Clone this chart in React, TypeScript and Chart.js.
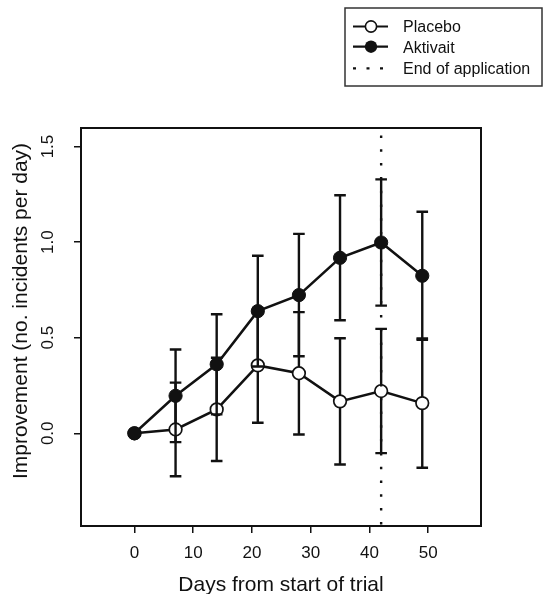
import React, { useEffect, useRef } from "react";
import { Chart, registerables } from "chart.js";

Chart.register(...registerables);

const DAYS = [0, 7, 14, 21, 28, 35, 42, 49];
const PLACEBO = [0, 0.02, 0.125, 0.355, 0.314, 0.167, 0.221, 0.158];
const PLACEBO_ERR = [0, 0.245, 0.27, 0.3, 0.32, 0.33, 0.325, 0.338];
const AKTIVAIT = [0, 0.196, 0.361, 0.639, 0.723, 0.918, 0.998, 0.824];
const AKTIVAIT_ERR = [0, 0.242, 0.262, 0.29, 0.32, 0.327, 0.33, 0.335];
const END_OF_APPLICATION_DAY = 42;

const X_TICKS = [0, 10, 20, 30, 40, 50];
const Y_TICKS = [0, 0.5, 1.0, 1.5];
const X_RANGE = [-9.1, 59];
const Y_RANGE = [-0.485, 1.597];

const X_TITLE = "Days from start of trial";
const Y_TITLE = "Improvement (no. incidents per day)";
const LEGEND_LABELS = ["Placebo", "Aktivait", "End of application"];

const FONT = "'Liberation Sans', Arial, sans-serif";
const INK = "#111";

const errorBarPlugin = {
  id: "errorBars",
  beforeDatasetDraw(chart: any, args: any) {
    const ds: any = chart.data.datasets[args.index];
    if (!ds.errors) return;
    const xs = chart.scales.x;
    const ys = chart.scales.y;
    const ctx = chart.ctx;
    ctx.save();
    ctx.strokeStyle = INK;
    ctx.lineWidth = 2.4;
    ctx.setLineDash([]);
    ds.data.forEach((p: any, i: number) => {
      const e = ds.errors[i];
      if (!e) return;
      const x = xs.getPixelForValue(p.x);
      const yt = ys.getPixelForValue(p.y + e);
      const yb = ys.getPixelForValue(p.y - e);
      ctx.beginPath();
      ctx.moveTo(x, yt);
      ctx.lineTo(x, yb);
      ctx.moveTo(x - 5.8, yt);
      ctx.lineTo(x + 5.8, yt);
      ctx.moveTo(x - 5.8, yb);
      ctx.lineTo(x + 5.8, yb);
      ctx.stroke();
    });
    ctx.restore();
  },
};

const framePlugin = {
  id: "frameAndExtras",
  afterDatasetsDraw(chart: any) {
    const { ctx, chartArea } = chart;
    const xs = chart.scales.x;
    const x = xs.getPixelForValue(END_OF_APPLICATION_DAY);
    ctx.save();
    ctx.strokeStyle = INK;
    ctx.lineWidth = 2.4;
    ctx.setLineDash([2.5, 11.3]);
    ctx.lineDashOffset = 6.3;
    ctx.beginPath();
    ctx.moveTo(x, chartArea.top);
    ctx.lineTo(x, chartArea.bottom);
    ctx.stroke();
    ctx.setLineDash([]);
    ctx.lineWidth = 2;
    ctx.strokeRect(chartArea.left, chartArea.top, chartArea.right - chartArea.left, chartArea.bottom - chartArea.top);
    ctx.restore();
  },
  afterDraw(chart: any) {
    const ctx = chart.ctx;
    const { chartArea } = chart;
    ctx.save();
    // y axis title
    ctx.fillStyle = INK;
    ctx.font = `21px ${FONT}`;
    ctx.textAlign = "center";
    ctx.textBaseline = "alphabetic";
    ctx.translate(27, (chartArea.top + chartArea.bottom) / 2 - 16);
    ctx.rotate(-Math.PI / 2);
    ctx.fillText(Y_TITLE, 0, 0);
    ctx.restore();

    ctx.save();
    // legend box
    ctx.strokeStyle = "#333";
    ctx.lineWidth = 1.5;
    ctx.strokeRect(345, 8, 197, 78);
    const rows = [26.5, 46.7, 68.3];
    const x0 = 353;
    const x1 = 388;
    const cx = 371;
    ctx.strokeStyle = INK;
    ctx.lineWidth = 2.2;
    // Placebo
    ctx.beginPath();
    ctx.moveTo(x0, rows[0]);
    ctx.lineTo(x1, rows[0]);
    ctx.stroke();
    ctx.beginPath();
    ctx.arc(cx, rows[0], 5.6, 0, Math.PI * 2);
    ctx.fillStyle = "#fff";
    ctx.fill();
    ctx.lineWidth = 1.6;
    ctx.stroke();
    // Aktivait
    ctx.lineWidth = 2.2;
    ctx.beginPath();
    ctx.moveTo(x0, rows[1]);
    ctx.lineTo(x1, rows[1]);
    ctx.stroke();
    ctx.beginPath();
    ctx.arc(cx, rows[1], 6.2, 0, Math.PI * 2);
    ctx.fillStyle = INK;
    ctx.fill();
    // End of application
    ctx.setLineDash([3, 10.5]);
    ctx.beginPath();
    ctx.moveTo(x0, rows[2]);
    ctx.lineTo(x1, rows[2]);
    ctx.stroke();
    ctx.setLineDash([]);
    ctx.fillStyle = INK;
    ctx.font = `16px ${FONT}`;
    ctx.textBaseline = "alphabetic";
    ctx.textAlign = "left";
    const baselines = [32.3, 52.7, 74];
    LEGEND_LABELS.forEach((t, i) => ctx.fillText(t, 403, baselines[i]));
    ctx.restore();
  },
};

export default function App() {
  const ref = useRef<HTMLCanvasElement | null>(null);
  useEffect(() => {
    if (!ref.current) return;
    const chart = new Chart(ref.current, {
      type: "line",
      data: {
        datasets: [
          {
            label: LEGEND_LABELS[1],
            data: DAYS.map((d, i) => ({ x: d, y: AKTIVAIT[i] })),
            errors: AKTIVAIT_ERR,
            borderColor: INK,
            backgroundColor: INK,
            borderWidth: 2.5,
            pointRadius: 6.6,
            pointBackgroundColor: INK,
            pointBorderColor: INK,
            pointBorderWidth: 1,
            tension: 0,
          } as any,
          {
            label: LEGEND_LABELS[0],
            data: DAYS.map((d, i) => ({ x: d, y: PLACEBO[i] })),
            errors: PLACEBO_ERR,
            borderColor: INK,
            backgroundColor: "#fff",
            borderWidth: 2.5,
            pointRadius: 6.3,
            pointBackgroundColor: "#fff",
            pointBorderColor: INK,
            pointBorderWidth: 1.7,
            tension: 0,
          } as any,
        ],
      },
      options: {
        animation: false,
        responsive: false,
        layout: { padding: { top: 128, right: 63, left: 0, bottom: 0 } },
        plugins: { legend: { display: false }, tooltip: { enabled: false } },
        scales: {
          x: {
            type: "linear",
            min: X_RANGE[0],
            max: X_RANGE[1],
            afterBuildTicks: (s: any) => {
              s.ticks = X_TICKS.map((v) => ({ value: v }));
            },
            afterFit: (s: any) => {
              s.height = 68;
            },
            grid: { drawOnChartArea: false, drawTicks: true, tickLength: 7, color: INK, lineWidth: 1.5 },
            border: { display: false },
            ticks: {
              color: INK,
              font: { family: FONT, size: 17 },
              padding: 10,
              maxRotation: 0,
              autoSkip: false,
              callback: (v: any) => String(v),
            },
            title: {
              display: true,
              text: X_TITLE,
              color: INK,
              font: { family: FONT, size: 21 },
              padding: { top: 0, bottom: -4 },
            },
          },
          y: {
            type: "linear",
            min: Y_RANGE[0],
            max: Y_RANGE[1],
            afterBuildTicks: (s: any) => {
              s.ticks = Y_TICKS.map((v) => ({ value: v }));
            },
            afterFit: (s: any) => {
              s.width = 81;
            },
            grid: { drawOnChartArea: false, drawTicks: true, tickLength: 7, color: INK, lineWidth: 1.5 },
            border: { display: false },
            ticks: {
              color: INK,
              font: { family: FONT, size: 17 },
              padding: 14,
              minRotation: 90,
              maxRotation: 90,
              crossAlign: "center",
              autoSkip: false,
              callback: (v: any) => Number(v).toFixed(1),
            },
            title: { display: false },
          },
        },
      },
      plugins: [errorBarPlugin, framePlugin],
    } as any);
    return () => chart.destroy();
  }, []);
  return (
    <div style={{ position: "fixed", left: 0, top: 0, width: 544, height: 594, background: "#fff" }}>
      <canvas ref={ref} width={544} height={594} style={{ width: 544, height: 594, display: "block" }} />
    </div>
  );
}
